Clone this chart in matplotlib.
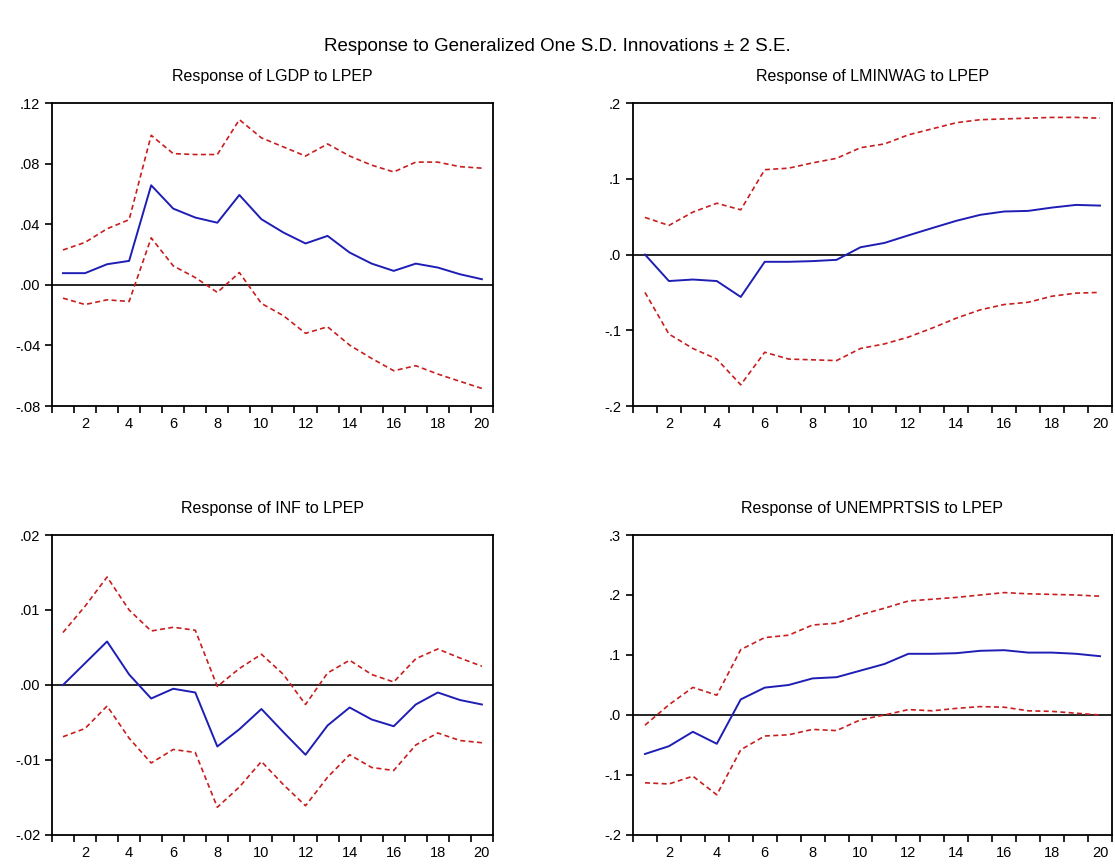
import numpy as np
import matplotlib
matplotlib.use("Agg")
import matplotlib.pyplot as plt
from matplotlib.ticker import FuncFormatter

periods = np.arange(1, 21)

# Response of LGDP to LPEP
lgdp_resp = [0.0077, 0.0077, 0.0136, 0.0158, 0.0657, 0.0503, 0.0444, 0.0410, 0.0593, 0.0433,
             0.0345, 0.0273, 0.0323, 0.0213, 0.0140, 0.0092, 0.0140, 0.0114, 0.0070, 0.0037]
lgdp_up = [0.023, 0.028, 0.037, 0.043, 0.0987, 0.0866, 0.086, 0.086, 0.109, 0.097,
           0.091, 0.085, 0.093, 0.085, 0.079, 0.0745, 0.081, 0.081, 0.078, 0.077]
lgdp_lo = [-0.0088, -0.013, -0.0099, -0.011, 0.031, 0.0125, 0.0048, -0.005, 0.0081, -0.0123,
           -0.0204, -0.032, -0.0277, -0.0398, -0.0486, -0.0567, -0.0534, -0.0589, -0.0637, -0.0684]

# Response of LMINWAG to LPEP
minwag_resp = [0.0, -0.035, -0.033, -0.035, -0.056, -0.0096, -0.0096, -0.0087, -0.007, 0.0096,
               0.0153, 0.0253, 0.035, 0.0445, 0.0524, 0.0568, 0.0576, 0.062, 0.0655, 0.0646]
minwag_up = [0.049, 0.0384, 0.056, 0.0677, 0.059, 0.112, 0.114, 0.121, 0.127, 0.141,
             0.146, 0.158, 0.166, 0.174, 0.178, 0.179, 0.18, 0.181, 0.181, 0.18]
minwag_lo = [-0.050, -0.105, -0.124, -0.138, -0.172, -0.129, -0.138, -0.139, -0.14, -0.124,
             -0.118, -0.109, -0.097, -0.084, -0.073, -0.066, -0.063, -0.055, -0.051, -0.050]

# Response of INF to LPEP
inf_resp = [0.0, 0.0029, 0.0058, 0.0014, -0.0018, -0.0005, -0.001, -0.0082, -0.0059, -0.0032,
            -0.0063, -0.0093, -0.0054, -0.003, -0.0046, -0.0055, -0.0026, -0.001, -0.002, -0.0026]
inf_up = [0.007, 0.0105, 0.0144, 0.010, 0.0072, 0.0077, 0.0073, -0.0002, 0.0022, 0.0041,
          0.0014, -0.0026, 0.0016, 0.0033, 0.0014, 0.0004, 0.0035, 0.0048, 0.0036, 0.0025]
inf_lo = [-0.0069, -0.0058, -0.0028, -0.0071, -0.0104, -0.0086, -0.009, -0.0163, -0.0136, -0.0102,
          -0.0133, -0.0161, -0.0123, -0.0093, -0.011, -0.0114, -0.008, -0.0064, -0.0074, -0.0077]

# Response of UNEMPRTSIS to LPEP
unemp_resp = [-0.065, -0.052, -0.028, -0.048, 0.026, 0.0456, 0.05, 0.061, 0.063, 0.074,
              0.085, 0.102, 0.102, 0.103, 0.107, 0.108, 0.104, 0.104, 0.102, 0.098]
unemp_up = [-0.017, 0.017, 0.046, 0.033, 0.109, 0.129, 0.133, 0.15, 0.153, 0.167,
            0.178, 0.19, 0.193, 0.196, 0.2, 0.204, 0.202, 0.201, 0.2, 0.198]
unemp_lo = [-0.113, -0.115, -0.102, -0.133, -0.058, -0.035, -0.033, -0.024, -0.026, -0.008,
            0.0, 0.009, 0.007, 0.011, 0.014, 0.013, 0.007, 0.006, 0.003, 0.0]

panels = [
    ("Response of LGDP to LPEP", lgdp_resp, lgdp_up, lgdp_lo,
     [-0.08, -0.04, 0.0, 0.04, 0.08, 0.12], 2, [0.0466, 0.5306, 0.3955, 0.3503]),
    ("Response of LMINWAG to LPEP", minwag_resp, minwag_up, minwag_lo,
     [-0.2, -0.1, 0.0, 0.1, 0.2], 1, [0.5677, 0.5306, 0.4296, 0.3503]),
    ("Response of INF to LPEP", inf_resp, inf_up, inf_lo,
     [-0.02, -0.01, 0.0, 0.01, 0.02], 2, [0.0466, 0.0347, 0.3955, 0.3468]),
    ("Response of UNEMPRTSIS to LPEP", unemp_resp, unemp_up, unemp_lo,
     [-0.2, -0.1, 0.0, 0.1, 0.2, 0.3], 1, [0.5677, 0.0347, 0.4296, 0.3468]),
]

plt.rcParams["font.family"] = ["Liberation Sans", "DejaVu Sans"]

fig = plt.figure(figsize=(11.15, 8.65), dpi=100)
fig.text(0.5, 0.946, "Response to Generalized One S.D. Innovations \u00b1 2 S.E.",
         ha="center", va="center", fontsize=13.5)


def fmt_factory(dec):
    def f(v, pos):
        s = f"{v:.{dec}f}"
        return s.replace("0.", ".", 1)
    return f


for title, resp, up, lo, yt, dec, rect in panels:
    ax = fig.add_axes(rect)
    ax.axhline(0, color="black", lw=1.2, zorder=1)
    ax.plot(periods, up, color="#c81e1e", lw=1.2, ls=(0, (3, 2)))
    ax.plot(periods, lo, color="#c81e1e", lw=1.2, ls=(0, (3, 2)))
    ax.plot(periods, resp, color="#1e1eb4", lw=1.4)
    ax.set_xlim(0.5, 20.5)
    ax.set_ylim(yt[0], yt[-1])
    ax.set_yticks(yt)
    ax.yaxis.set_major_formatter(FuncFormatter(fmt_factory(dec)))
    ax.set_xticks(np.arange(2, 21, 2))
    ax.set_xticks(np.arange(0.5, 21, 1), minor=True)
    ax.tick_params(axis="x", which="major", length=0, labelsize=10.5, pad=8)
    ax.tick_params(axis="x", which="minor", length=5, width=1.2, direction="out")
    ax.tick_params(axis="y", length=5, width=1.2, direction="out", labelsize=10.5)
    for s in ax.spines.values():
        s.set_linewidth(1.3)
    ax.set_title(title, fontsize=11.5, pad=16)

fig.savefig("out.png", dpi=100)
